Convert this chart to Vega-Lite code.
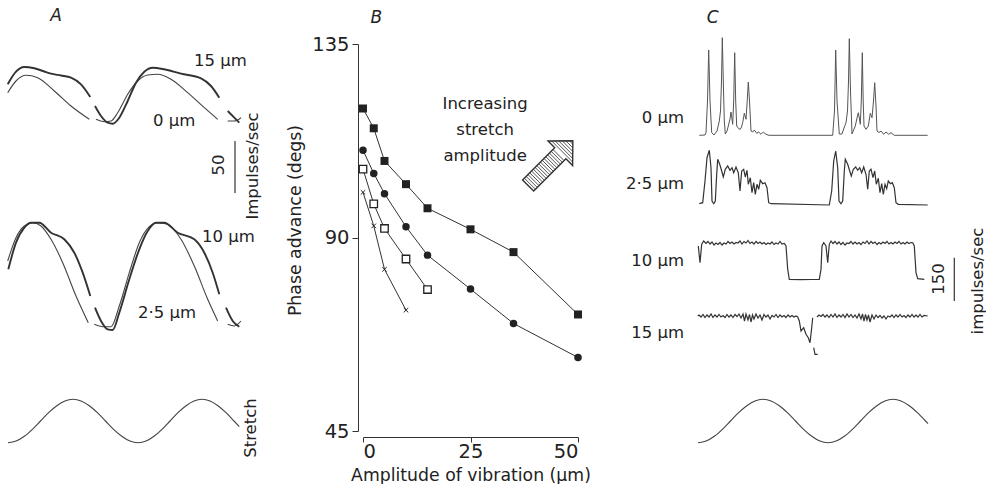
{
  "$schema": "https://vega.github.io/schema/vega-lite/v6.json",
  "padding": 0,
  "spacing": 20,
  "bounds": "flush",
  "background": "white",
  "config": {
    "view": {"stroke": null},
    "font": "DejaVu Sans",
    "text": {"font": "DejaVu Sans", "fontSize": 16.5, "color": "#222"},
    "axis": {
      "grid": false,
      "domainColor": "#333",
      "tickColor": "#333",
      "labelColor": "#222",
      "titleColor": "#222",
      "labelFont": "DejaVu Sans",
      "titleFont": "DejaVu Sans",
      "titleFontWeight": "normal"
    }
  },
  "datasets": {
    "tracesA": [
      {"s":"15","g":1,"t":6.7,"v":346.7},{"s":"15","g":1,"t":15,"v":359.3},{"s":"15","g":1,"t":23.3,"v":364},{"s":"15","g":1,"t":33.3,"v":362.7},{"s":"15","g":1,"t":42,"v":360},{"s":"15","g":1,"t":50,"v":357.3},{"s":"15","g":1,"t":60,"v":355.5},{"s":"15","g":1,"t":70,"v":353.3},{"s":"15","g":1,"t":80,"v":346.7},{"s":"15","g":1,"t":89.3,"v":334},
      {"s":"15","g":2,"t":94,"v":325},{"s":"15","g":2,"t":100,"v":315},{"s":"15","g":2,"t":106.7,"v":308.3},{"s":"15","g":2,"t":111.7,"v":307.3},{"s":"15","g":2,"t":118.3,"v":313.3},{"s":"15","g":2,"t":126.7,"v":330},{"s":"15","g":2,"t":135,"v":348.3},{"s":"15","g":2,"t":143.3,"v":359.3},{"s":"15","g":2,"t":151.7,"v":363.3},{"s":"15","g":2,"t":163.3,"v":361.7},{"s":"15","g":2,"t":180,"v":357.3},{"s":"15","g":2,"t":200,"v":352.7},{"s":"15","g":2,"t":210,"v":345},{"s":"15","g":2,"t":218.3,"v":333.3},
      {"s":"15","g":3,"t":226.7,"v":320},{"s":"15","g":3,"t":233.3,"v":313.3},{"s":"15","g":3,"t":238.3,"v":308.3},
      {"s":"0","g":1,"t":6.7,"v":338.3},{"s":"0","g":1,"t":15,"v":350},{"s":"0","g":1,"t":25,"v":355.7},{"s":"0","g":1,"t":36.7,"v":353.3},{"s":"0","g":1,"t":53.3,"v":340},{"s":"0","g":1,"t":70,"v":325},{"s":"0","g":1,"t":88.3,"v":311.7},
      {"s":"0","g":2,"t":95,"v":311.7},{"s":"0","g":2,"t":103.3,"v":309.3},{"s":"0","g":2,"t":110,"v":310},{"s":"0","g":2,"t":116.7,"v":318.3},{"s":"0","g":2,"t":126.7,"v":336.7},{"s":"0","g":2,"t":136.7,"v":350},{"s":"0","g":2,"t":146.7,"v":356},{"s":"0","g":2,"t":156.7,"v":356.7},{"s":"0","g":2,"t":170,"v":351.7},{"s":"0","g":2,"t":186.7,"v":338.3},{"s":"0","g":2,"t":203.3,"v":323.3},{"s":"0","g":2,"t":216.7,"v":311.7},
      {"s":"0","g":3,"t":226.7,"v":310},{"s":"0","g":3,"t":233.3,"v":310},{"s":"0","g":3,"t":240,"v":313.3},
      {"s":"10","g":1,"t":7.3,"v":161.7},{"s":"10","g":1,"t":15,"v":188.3},{"s":"10","g":1,"t":23.3,"v":203.3},{"s":"10","g":1,"t":30,"v":208.3},{"s":"10","g":1,"t":38.3,"v":208.3},{"s":"10","g":1,"t":50,"v":198.3},{"s":"10","g":1,"t":63.3,"v":191.7},{"s":"10","g":1,"t":73.3,"v":178.3},{"s":"10","g":1,"t":81.7,"v":158.3},{"s":"10","g":1,"t":89.3,"v":135},
      {"s":"10","g":2,"t":94,"v":123.3},{"s":"10","g":2,"t":100,"v":110},{"s":"10","g":2,"t":106.7,"v":101.7},{"s":"10","g":2,"t":111.7,"v":101},{"s":"10","g":2,"t":118.3,"v":118.3},{"s":"10","g":2,"t":128.3,"v":151.7},{"s":"10","g":2,"t":138.3,"v":181.7},{"s":"10","g":2,"t":146.7,"v":200},{"s":"10","g":2,"t":155,"v":208.3},{"s":"10","g":2,"t":163.3,"v":208.3},{"s":"10","g":2,"t":176.7,"v":198.3},{"s":"10","g":2,"t":193.3,"v":191.7},{"s":"10","g":2,"t":203.3,"v":178.3},{"s":"10","g":2,"t":211.7,"v":158.3},{"s":"10","g":2,"t":218.3,"v":136.7},
      {"s":"10","g":3,"t":225,"v":123.3},{"s":"10","g":3,"t":231.7,"v":110},{"s":"10","g":3,"t":238.3,"v":104.3},
      {"s":"2.5","g":1,"t":6.7,"v":170},{"s":"2.5","g":1,"t":15,"v":193.3},{"s":"2.5","g":1,"t":23.3,"v":205},{"s":"2.5","g":1,"t":31.7,"v":208.3},{"s":"2.5","g":1,"t":40,"v":205},{"s":"2.5","g":1,"t":50,"v":191.7},{"s":"2.5","g":1,"t":61.7,"v":168.3},{"s":"2.5","g":1,"t":75,"v":135},{"s":"2.5","g":1,"t":87.3,"v":108.3},
      {"s":"2.5","g":2,"t":93.3,"v":106.7},{"s":"2.5","g":2,"t":101.7,"v":104.3},{"s":"2.5","g":2,"t":110,"v":104.3},{"s":"2.5","g":2,"t":118.3,"v":125},{"s":"2.5","g":2,"t":128.3,"v":158.3},{"s":"2.5","g":2,"t":138.3,"v":188.3},{"s":"2.5","g":2,"t":148.3,"v":204.3},{"s":"2.5","g":2,"t":156.7,"v":208.3},{"s":"2.5","g":2,"t":166.7,"v":206.7},{"s":"2.5","g":2,"t":180,"v":191.7},{"s":"2.5","g":2,"t":193.3,"v":165},{"s":"2.5","g":2,"t":206.7,"v":131.7},{"s":"2.5","g":2,"t":216.7,"v":110},
      {"s":"2.5","g":3,"t":226.7,"v":106.7},{"s":"2.5","g":3,"t":233.3,"v":105},{"s":"2.5","g":3,"t":240,"v":110},
      {"s":"st","g":1,"t":7,"v":-11.7},{"s":"st","g":1,"t":15.1,"v":-10.1},{"s":"st","g":1,"t":23.3,"v":-5.3},{"s":"st","g":1,"t":31.4,"v":1.7},{"s":"st","g":1,"t":39.5,"v":10},{"s":"st","g":1,"t":47.6,"v":18.3},{"s":"st","g":1,"t":55.8,"v":25.3},{"s":"st","g":1,"t":63.9,"v":30.1},{"s":"st","g":1,"t":72,"v":31.7},{"s":"st","g":1,"t":80.1,"v":30.1},{"s":"st","g":1,"t":88.3,"v":25.3},{"s":"st","g":1,"t":96.4,"v":18.3},{"s":"st","g":1,"t":104.5,"v":10},{"s":"st","g":1,"t":112.6,"v":1.7},{"s":"st","g":1,"t":120.8,"v":-5.3},{"s":"st","g":1,"t":128.9,"v":-10.1},{"s":"st","g":1,"t":137,"v":-11.7},{"s":"st","g":1,"t":145,"v":-10.1},{"s":"st","g":1,"t":153,"v":-5.3},{"s":"st","g":1,"t":161,"v":1.7},{"s":"st","g":1,"t":169,"v":10},{"s":"st","g":1,"t":177,"v":18.3},{"s":"st","g":1,"t":185,"v":25.3},{"s":"st","g":1,"t":193,"v":30.1},{"s":"st","g":1,"t":201,"v":31.7},{"s":"st","g":1,"t":209,"v":30.1},{"s":"st","g":1,"t":217,"v":25.3},{"s":"st","g":1,"t":225,"v":18.3},{"s":"st","g":1,"t":233,"v":10},{"s":"st","g":1,"t":238.3,"v":4.4}
    ],
    "phase": [
      {"series":"sq","amp":0,"phase":120.0},{"series":"sq","amp":2.5,"phase":115.4},{"series":"sq","amp":5,"phase":107.8},{"series":"sq","amp":10,"phase":102.4},{"series":"sq","amp":15,"phase":96.8},{"series":"sq","amp":25,"phase":91.9},{"series":"sq","amp":35,"phase":86.6},{"series":"sq","amp":50,"phase":72.1},
      {"series":"circ","amp":0,"phase":110.3},{"series":"circ","amp":2.5,"phase":104.9},{"series":"circ","amp":5,"phase":100.2},{"series":"circ","amp":10,"phase":92.5},{"series":"circ","amp":15,"phase":85.9},{"series":"circ","amp":25,"phase":78.0},{"series":"circ","amp":35,"phase":70.0},{"series":"circ","amp":50,"phase":62.1},
      {"series":"open","amp":0,"phase":105.9},{"series":"open","amp":2.5,"phase":97.8},{"series":"open","amp":5,"phase":92.1},{"series":"open","amp":10,"phase":85.0},{"series":"open","amp":15,"phase":77.9},
      {"series":"x","amp":0,"phase":100.5},{"series":"x","amp":2.5,"phase":92.7},{"series":"x","amp":5,"phase":82.6},{"series":"x","amp":10,"phase":73.1}
    ],
    "tracesC": [
      {"s":"0","g":1,"t":698.3,"v":295.7},{"s":"0","g":1,"t":704,"v":296},{"s":"0","g":1,"t":705,"v":298.3},{"s":"0","g":1,"t":706.5,"v":330},{"s":"0","g":1,"t":707.7,"v":381},{"s":"0","g":1,"t":709,"v":330},{"s":"0","g":1,"t":710.7,"v":298.3},{"s":"0","g":1,"t":713,"v":296},{"s":"0","g":1,"t":716,"v":300},{"s":"0","g":1,"t":718.3,"v":310},{"s":"0","g":1,"t":719.5,"v":320},{"s":"0","g":1,"t":720.5,"v":350},{"s":"0","g":1,"t":721.3,"v":393.3},{"s":"0","g":1,"t":722.3,"v":350},{"s":"0","g":1,"t":723.3,"v":310},{"s":"0","g":1,"t":724.3,"v":297},{"s":"0","g":1,"t":726,"v":300},{"s":"0","g":1,"t":727.3,"v":305},{"s":"0","g":1,"t":729,"v":312},{"s":"0","g":1,"t":730,"v":319},{"s":"0","g":1,"t":731,"v":312},{"s":"0","g":1,"t":731.7,"v":306.7},{"s":"0","g":1,"t":732.7,"v":330},{"s":"0","g":1,"t":733.7,"v":378.3},{"s":"0","g":1,"t":734.7,"v":330},{"s":"0","g":1,"t":735.7,"v":305},{"s":"0","g":1,"t":737.7,"v":302.3},{"s":"0","g":1,"t":739.3,"v":301.7},{"s":"0","g":1,"t":740.5,"v":304},{"s":"0","g":1,"t":741.7,"v":308.3},{"s":"0","g":1,"t":743.3,"v":317.7},{"s":"0","g":1,"t":745,"v":311.7},{"s":"0","g":1,"t":746.2,"v":330},{"s":"0","g":1,"t":747.3,"v":349},{"s":"0","g":1,"t":748.5,"v":330},{"s":"0","g":1,"t":750,"v":300},{"s":"0","g":1,"t":751.7,"v":299},{"s":"0","g":1,"t":753.3,"v":301},{"s":"0","g":1,"t":755.7,"v":297.7},{"s":"0","g":1,"t":757.7,"v":299},{"s":"0","g":1,"t":760,"v":296.7},{"s":"0","g":1,"t":762.3,"v":299},{"s":"0","g":1,"t":765,"v":296.7},{"s":"0","g":1,"t":768,"v":295.7},{"s":"0","g":1,"t":831.7,"v":295.7},{"s":"0","g":1,"t":833.5,"v":320},{"s":"0","g":1,"t":834.7,"v":381},{"s":"0","g":1,"t":836,"v":330},{"s":"0","g":1,"t":838.3,"v":297},{"s":"0","g":1,"t":841,"v":297},{"s":"0","g":1,"t":843,"v":303},{"s":"0","g":1,"t":845,"v":308.3},{"s":"0","g":1,"t":846.5,"v":320},{"s":"0","g":1,"t":847.5,"v":350},{"s":"0","g":1,"t":848.3,"v":392.3},{"s":"0","g":1,"t":849.5,"v":340},{"s":"0","g":1,"t":851,"v":297},{"s":"0","g":1,"t":853,"v":302},{"s":"0","g":1,"t":854.3,"v":305},{"s":"0","g":1,"t":856,"v":313},{"s":"0","g":1,"t":857.3,"v":318.3},{"s":"0","g":1,"t":858.5,"v":312},{"s":"0","g":1,"t":859.3,"v":306.7},{"s":"0","g":1,"t":860.3,"v":330},{"s":"0","g":1,"t":861.3,"v":378.3},{"s":"0","g":1,"t":862.2,"v":330},{"s":"0","g":1,"t":863,"v":305},{"s":"0","g":1,"t":865,"v":301.7},{"s":"0","g":1,"t":867.3,"v":305},{"s":"0","g":1,"t":869.3,"v":317.7},{"s":"0","g":1,"t":871,"v":313.3},{"s":"0","g":1,"t":872.5,"v":330},{"s":"0","g":1,"t":873.7,"v":348.3},{"s":"0","g":1,"t":875,"v":325},{"s":"0","g":1,"t":876,"v":300},{"s":"0","g":1,"t":878,"v":298.5},{"s":"0","g":1,"t":880,"v":300},{"s":"0","g":1,"t":882.7,"v":296.7},{"s":"0","g":1,"t":885,"v":299},{"s":"0","g":1,"t":887.7,"v":296.7},{"s":"0","g":1,"t":890,"v":298.3},{"s":"0","g":1,"t":893.3,"v":295.7},{"s":"0","g":1,"t":926.7,"v":295.7},
      {"s":"2.5","g":1,"t":698.3,"v":227.3},{"s":"2.5","g":1,"t":701.7,"v":228.3},{"s":"2.5","g":1,"t":704,"v":250},{"s":"2.5","g":1,"t":706,"v":273.3},{"s":"2.5","g":1,"t":708.3,"v":280.7},{"s":"2.5","g":1,"t":710,"v":263.3},{"s":"2.5","g":1,"t":711,"v":230},{"s":"2.5","g":1,"t":712.7,"v":227.3},{"s":"2.5","g":1,"t":714.3,"v":230},{"s":"2.5","g":1,"t":715.7,"v":256.7},{"s":"2.5","g":1,"t":716.7,"v":271.7},{"s":"2.5","g":1,"t":718.7,"v":266.7},{"s":"2.5","g":1,"t":720.7,"v":260},{"s":"2.5","g":1,"t":722.3,"v":254},{"s":"2.5","g":1,"t":724.3,"v":261.7},{"s":"2.5","g":1,"t":726.7,"v":265},{"s":"2.5","g":1,"t":729,"v":260.7},{"s":"2.5","g":1,"t":731,"v":263.3},{"s":"2.5","g":1,"t":732.7,"v":258.3},{"s":"2.5","g":1,"t":735,"v":264},{"s":"2.5","g":1,"t":737.3,"v":258.3},{"s":"2.5","g":1,"t":739,"v":240},{"s":"2.5","g":1,"t":740.7,"v":260},{"s":"2.5","g":1,"t":742.7,"v":261.7},{"s":"2.5","g":1,"t":744.3,"v":254},{"s":"2.5","g":1,"t":746,"v":260.7},{"s":"2.5","g":1,"t":747.3,"v":246.7},{"s":"2.5","g":1,"t":749.3,"v":253.3},{"s":"2.5","g":1,"t":751,"v":238.3},{"s":"2.5","g":1,"t":752.7,"v":248.3},{"s":"2.5","g":1,"t":754.3,"v":236.7},{"s":"2.5","g":1,"t":756,"v":246.7},{"s":"2.5","g":1,"t":757.7,"v":241.7},{"s":"2.5","g":1,"t":759.3,"v":250.7},{"s":"2.5","g":1,"t":761.7,"v":247.3},{"s":"2.5","g":1,"t":764,"v":248.3},{"s":"2.5","g":1,"t":766,"v":243.3},{"s":"2.5","g":1,"t":767.7,"v":228.3},{"s":"2.5","g":1,"t":770,"v":227.3},{"s":"2.5","g":1,"t":828.3,"v":226},{"s":"2.5","g":1,"t":830.7,"v":240},{"s":"2.5","g":1,"t":832.7,"v":270},{"s":"2.5","g":1,"t":834.7,"v":280},{"s":"2.5","g":1,"t":836.7,"v":263.3},{"s":"2.5","g":1,"t":838,"v":230},{"s":"2.5","g":1,"t":840,"v":227.3},{"s":"2.5","g":1,"t":841.7,"v":230},{"s":"2.5","g":1,"t":843.3,"v":260},{"s":"2.5","g":1,"t":844.3,"v":271.7},{"s":"2.5","g":1,"t":846.7,"v":266.7},{"s":"2.5","g":1,"t":848.7,"v":260},{"s":"2.5","g":1,"t":850.3,"v":255},{"s":"2.5","g":1,"t":852.3,"v":261.7},{"s":"2.5","g":1,"t":854.7,"v":264},{"s":"2.5","g":1,"t":856.7,"v":260.7},{"s":"2.5","g":1,"t":858.7,"v":263.3},{"s":"2.5","g":1,"t":860.7,"v":258.3},{"s":"2.5","g":1,"t":862.7,"v":264},{"s":"2.5","g":1,"t":865,"v":256.7},{"s":"2.5","g":1,"t":866.7,"v":241.7},{"s":"2.5","g":1,"t":868.3,"v":260},{"s":"2.5","g":1,"t":870,"v":261.7},{"s":"2.5","g":1,"t":872,"v":253.3},{"s":"2.5","g":1,"t":873.7,"v":260},{"s":"2.5","g":1,"t":875.3,"v":246.7},{"s":"2.5","g":1,"t":877.3,"v":252.7},{"s":"2.5","g":1,"t":879,"v":238.3},{"s":"2.5","g":1,"t":880.7,"v":247.3},{"s":"2.5","g":1,"t":882.3,"v":236.7},{"s":"2.5","g":1,"t":884,"v":246.7},{"s":"2.5","g":1,"t":885.7,"v":242.3},{"s":"2.5","g":1,"t":887.3,"v":250},{"s":"2.5","g":1,"t":889.3,"v":247.3},{"s":"2.5","g":1,"t":891.3,"v":248.3},{"s":"2.5","g":1,"t":893.3,"v":243.3},{"s":"2.5","g":1,"t":895,"v":228.3},{"s":"2.5","g":1,"t":897.3,"v":226.7},{"s":"2.5","g":1,"t":926.7,"v":226},
      {"s":"10","g":1,"t":697.3,"v":185},{"s":"10","g":1,"t":699,"v":168.3},{"s":"10","g":1,"t":700.7,"v":186.7},{"s":"10","g":1,"t":702.7,"v":190},{"s":"10","g":1,"t":705,"v":187.5},{"s":"10","g":1,"t":707,"v":189.5},{"s":"10","g":1,"t":709,"v":187},{"s":"10","g":1,"t":711,"v":189},{"s":"10","g":1,"t":713,"v":186},{"s":"10","g":1,"t":715,"v":188},{"s":"10","g":1,"t":717,"v":186.5},{"s":"10","g":1,"t":719,"v":188.5},{"s":"10","g":1,"t":721,"v":186},{"s":"10","g":1,"t":723,"v":188},{"s":"10","g":1,"t":725,"v":187},{"s":"10","g":1,"t":727,"v":189.5},{"s":"10","g":1,"t":729,"v":187.5},{"s":"10","g":1,"t":731,"v":189},{"s":"10","g":1,"t":733,"v":187},{"s":"10","g":1,"t":735,"v":188.5},{"s":"10","g":1,"t":737,"v":188},{"s":"10","g":1,"t":739,"v":190},{"s":"10","g":1,"t":741,"v":187},{"s":"10","g":1,"t":743,"v":189.5},{"s":"10","g":1,"t":745,"v":188},{"s":"10","g":1,"t":747,"v":190.5},{"s":"10","g":1,"t":749,"v":187.5},{"s":"10","g":1,"t":751,"v":189},{"s":"10","g":1,"t":753,"v":187},{"s":"10","g":1,"t":755,"v":189.5},{"s":"10","g":1,"t":757,"v":187.5},{"s":"10","g":1,"t":759,"v":189},{"s":"10","g":1,"t":761,"v":187},{"s":"10","g":1,"t":763,"v":188.5},{"s":"10","g":1,"t":765,"v":186.5},{"s":"10","g":1,"t":767,"v":188},{"s":"10","g":1,"t":769,"v":187},{"s":"10","g":1,"t":771,"v":189},{"s":"10","g":1,"t":773,"v":186.5},{"s":"10","g":1,"t":775,"v":188},{"s":"10","g":1,"t":777,"v":187},{"s":"10","g":1,"t":779,"v":189.5},{"s":"10","g":1,"t":781,"v":187},{"s":"10","g":1,"t":783.3,"v":187.5},{"s":"10","g":1,"t":785,"v":185},{"s":"10","g":1,"t":786.7,"v":161.7},{"s":"10","g":1,"t":788.3,"v":151.7},{"s":"10","g":1,"t":800,"v":151.3},{"s":"10","g":1,"t":810,"v":151.5},{"s":"10","g":1,"t":818.3,"v":151.7},{"s":"10","g":1,"t":820,"v":161.7},{"s":"10","g":1,"t":821,"v":185},{"s":"10","g":1,"t":822.7,"v":188.3},{"s":"10","g":1,"t":825,"v":185},{"s":"10","g":1,"t":826.7,"v":168.3},{"s":"10","g":1,"t":828.3,"v":186.7},{"s":"10","g":1,"t":830,"v":190},{"s":"10","g":1,"t":832,"v":187.5},{"s":"10","g":1,"t":834,"v":189.5},{"s":"10","g":1,"t":836,"v":187},{"s":"10","g":1,"t":838,"v":189},{"s":"10","g":1,"t":840,"v":186.5},{"s":"10","g":1,"t":842,"v":188.5},{"s":"10","g":1,"t":844,"v":186},{"s":"10","g":1,"t":846,"v":188},{"s":"10","g":1,"t":848,"v":187.5},{"s":"10","g":1,"t":850,"v":189.5},{"s":"10","g":1,"t":852,"v":187},{"s":"10","g":1,"t":854,"v":189},{"s":"10","g":1,"t":856,"v":187},{"s":"10","g":1,"t":858,"v":188.5},{"s":"10","g":1,"t":860,"v":186.5},{"s":"10","g":1,"t":862,"v":189},{"s":"10","g":1,"t":864,"v":187.5},{"s":"10","g":1,"t":866,"v":190},{"s":"10","g":1,"t":868,"v":187},{"s":"10","g":1,"t":870,"v":189.5},{"s":"10","g":1,"t":872,"v":187.5},{"s":"10","g":1,"t":874,"v":189},{"s":"10","g":1,"t":876,"v":186.5},{"s":"10","g":1,"t":878,"v":188.5},{"s":"10","g":1,"t":880,"v":187},{"s":"10","g":1,"t":882,"v":189},{"s":"10","g":1,"t":884,"v":187.5},{"s":"10","g":1,"t":886,"v":189.5},{"s":"10","g":1,"t":888,"v":187},{"s":"10","g":1,"t":890,"v":188.5},{"s":"10","g":1,"t":892,"v":187},{"s":"10","g":1,"t":894,"v":189},{"s":"10","g":1,"t":896,"v":187.5},{"s":"10","g":1,"t":898,"v":189.5},{"s":"10","g":1,"t":900,"v":187},{"s":"10","g":1,"t":902,"v":188.5},{"s":"10","g":1,"t":904,"v":187},{"s":"10","g":1,"t":906,"v":189},{"s":"10","g":1,"t":908,"v":187.5},{"s":"10","g":1,"t":910,"v":188.5},{"s":"10","g":1,"t":911.7,"v":188.3},{"s":"10","g":1,"t":913.3,"v":185},{"s":"10","g":1,"t":915,"v":158.3},{"s":"10","g":1,"t":916.7,"v":152.3},{"s":"10","g":1,"t":923.3,"v":151.7},
      {"s":"15","g":1,"t":696.7,"v":115},{"s":"15","g":1,"t":698,"v":116},{"s":"15","g":1,"t":700,"v":114},{"s":"15","g":1,"t":702,"v":116.5},{"s":"15","g":1,"t":704,"v":113.5},{"s":"15","g":1,"t":706,"v":116},{"s":"15","g":1,"t":708,"v":114},{"s":"15","g":1,"t":710,"v":117},{"s":"15","g":1,"t":712,"v":113.5},{"s":"15","g":1,"t":714,"v":116},{"s":"15","g":1,"t":716,"v":114},{"s":"15","g":1,"t":718,"v":116.5},{"s":"15","g":1,"t":720,"v":114},{"s":"15","g":1,"t":722,"v":115.5},{"s":"15","g":1,"t":724,"v":113.5},{"s":"15","g":1,"t":726,"v":116.5},{"s":"15","g":1,"t":728,"v":114},{"s":"15","g":1,"t":730,"v":116},{"s":"15","g":1,"t":732,"v":113.5},{"s":"15","g":1,"t":734,"v":116.5},{"s":"15","g":1,"t":736,"v":114.5},{"s":"15","g":1,"t":738,"v":117},{"s":"15","g":1,"t":740,"v":113},{"s":"15","g":1,"t":742,"v":117},{"s":"15","g":1,"t":743.5,"v":110},{"s":"15","g":1,"t":745,"v":117},{"s":"15","g":1,"t":747,"v":111},{"s":"15","g":1,"t":748.5,"v":116.5},{"s":"15","g":1,"t":750,"v":109},{"s":"15","g":1,"t":751.5,"v":116},{"s":"15","g":1,"t":753,"v":112},{"s":"15","g":1,"t":755,"v":117},{"s":"15","g":1,"t":757,"v":113},{"s":"15","g":1,"t":759,"v":116},{"s":"15","g":1,"t":761,"v":111},{"s":"15","g":1,"t":763,"v":116.5},{"s":"15","g":1,"t":765,"v":114},{"s":"15","g":1,"t":767,"v":116},{"s":"15","g":1,"t":769,"v":112},{"s":"15","g":1,"t":771,"v":115.5},{"s":"15","g":1,"t":773,"v":114},{"s":"15","g":1,"t":775,"v":116.5},{"s":"15","g":1,"t":777,"v":113.5},{"s":"15","g":1,"t":779,"v":116},{"s":"15","g":1,"t":781,"v":114},{"s":"15","g":1,"t":783,"v":115.5},{"s":"15","g":1,"t":785,"v":113.5},{"s":"15","g":1,"t":787,"v":116},{"s":"15","g":1,"t":789,"v":114},{"s":"15","g":1,"t":791,"v":115.5},{"s":"15","g":1,"t":793,"v":114},{"s":"15","g":1,"t":795,"v":115},{"s":"15","g":1,"t":796.7,"v":114},{"s":"15","g":1,"t":798.3,"v":110},{"s":"15","g":1,"t":800,"v":100},{"s":"15","g":1,"t":802.7,"v":103.3},{"s":"15","g":1,"t":805,"v":96.7},{"s":"15","g":1,"t":807.3,"v":93.3},{"s":"15","g":1,"t":809,"v":88.3},{"s":"15","g":1,"t":810.7,"v":103.3},{"s":"15","g":1,"t":811.7,"v":113.3},
      {"s":"15","g":2,"t":812.7,"v":83.3},{"s":"15","g":2,"t":814,"v":76.7},{"s":"15","g":2,"t":816.7,"v":76.7},
      {"s":"15","g":3,"t":816,"v":114},{"s":"15","g":3,"t":818,"v":116},{"s":"15","g":3,"t":820,"v":114.5},{"s":"15","g":3,"t":822,"v":116.5},{"s":"15","g":3,"t":824,"v":114},{"s":"15","g":3,"t":826,"v":116},{"s":"15","g":3,"t":828,"v":113.5},{"s":"15","g":3,"t":830,"v":116.5},{"s":"15","g":3,"t":832,"v":114},{"s":"15","g":3,"t":834,"v":117},{"s":"15","g":3,"t":836,"v":113.5},{"s":"15","g":3,"t":838,"v":116},{"s":"15","g":3,"t":840,"v":114},{"s":"15","g":3,"t":842,"v":116.5},{"s":"15","g":3,"t":844,"v":113.5},{"s":"15","g":3,"t":846,"v":117},{"s":"15","g":3,"t":848,"v":114},{"s":"15","g":3,"t":850,"v":116.5},{"s":"15","g":3,"t":852,"v":113.5},{"s":"15","g":3,"t":854,"v":116},{"s":"15","g":3,"t":856,"v":113},{"s":"15","g":3,"t":858,"v":117},{"s":"15","g":3,"t":860,"v":112},{"s":"15","g":3,"t":861.5,"v":117},{"s":"15","g":3,"t":863,"v":110},{"s":"15","g":3,"t":864.5,"v":116.5},{"s":"15","g":3,"t":866,"v":111},{"s":"15","g":3,"t":867.5,"v":116},{"s":"15","g":3,"t":869,"v":109},{"s":"15","g":3,"t":871,"v":116},{"s":"15","g":3,"t":873,"v":112},{"s":"15","g":3,"t":875,"v":116},{"s":"15","g":3,"t":877,"v":113.5},{"s":"15","g":3,"t":879,"v":115.5},{"s":"15","g":3,"t":881,"v":113},{"s":"15","g":3,"t":883,"v":115},{"s":"15","g":3,"t":885,"v":112},{"s":"15","g":3,"t":887,"v":115},{"s":"15","g":3,"t":889,"v":114},{"s":"15","g":3,"t":891,"v":116},{"s":"15","g":3,"t":893,"v":113.5},{"s":"15","g":3,"t":895,"v":116},{"s":"15","g":3,"t":897,"v":114},{"s":"15","g":3,"t":899,"v":116.5},{"s":"15","g":3,"t":901,"v":114},{"s":"15","g":3,"t":903,"v":115.5},{"s":"15","g":3,"t":905,"v":113.5},{"s":"15","g":3,"t":907,"v":116},{"s":"15","g":3,"t":909,"v":114},{"s":"15","g":3,"t":911,"v":116.5},{"s":"15","g":3,"t":913,"v":114},{"s":"15","g":3,"t":915,"v":116},{"s":"15","g":3,"t":917,"v":114},{"s":"15","g":3,"t":919,"v":116.5},{"s":"15","g":3,"t":921,"v":114},{"s":"15","g":3,"t":923,"v":115.5},{"s":"15","g":3,"t":926.7,"v":115},
      {"s":"st","g":1,"t":697,"v":-11.7},{"s":"st","g":1,"t":705.1,"v":-10.1},{"s":"st","g":1,"t":713.3,"v":-5.3},{"s":"st","g":1,"t":721.4,"v":1.7},{"s":"st","g":1,"t":729.5,"v":10},{"s":"st","g":1,"t":737.6,"v":18.3},{"s":"st","g":1,"t":745.8,"v":25.3},{"s":"st","g":1,"t":753.9,"v":30.1},{"s":"st","g":1,"t":762,"v":31.7},{"s":"st","g":1,"t":770.1,"v":30.1},{"s":"st","g":1,"t":778.3,"v":25.3},{"s":"st","g":1,"t":786.4,"v":18.3},{"s":"st","g":1,"t":794.5,"v":10},{"s":"st","g":1,"t":802.6,"v":1.7},{"s":"st","g":1,"t":810.8,"v":-5.3},{"s":"st","g":1,"t":818.9,"v":-10.1},{"s":"st","g":1,"t":827,"v":-11.7},{"s":"st","g":1,"t":835.1,"v":-10.1},{"s":"st","g":1,"t":843.3,"v":-5.3},{"s":"st","g":1,"t":851.4,"v":1.7},{"s":"st","g":1,"t":859.5,"v":10},{"s":"st","g":1,"t":867.6,"v":18.3},{"s":"st","g":1,"t":875.8,"v":25.3},{"s":"st","g":1,"t":883.9,"v":30.1},{"s":"st","g":1,"t":892,"v":31.7},{"s":"st","g":1,"t":900.1,"v":30.1},{"s":"st","g":1,"t":908.3,"v":25.3},{"s":"st","g":1,"t":916.4,"v":18.3},{"s":"st","g":1,"t":924.5,"v":10},{"s":"st","g":1,"t":927,"v":7.3}
    ]
  },
  "hconcat": [
    {
      "width": 342,
      "height": 387,
      "data": {"name": "tracesA"},
      "encoding": {
        "x": {"field": "t", "type": "quantitative", "scale": {"domain": [0, 342], "nice": false, "zero": false}, "axis": null},
        "y": {"field": "v", "type": "quantitative", "scale": {"domain": [0, 387], "nice": false, "zero": false}, "axis": null}
      },
      "layer": [
        {
          "transform": [{"filter": "datum.s == '0' || datum.s == '2.5' || datum.s == 'st'"}],
          "mark": {"type": "line", "color": "#444", "strokeWidth": 1.1, "interpolate": "monotone"},
          "encoding": {"detail": [{"field": "s"}, {"field": "g"}]}
        },
        {
          "transform": [{"filter": "datum.s == '15' || datum.s == '10'"}],
          "mark": {"type": "line", "color": "#333", "strokeWidth": 1.9, "interpolate": "monotone"},
          "encoding": {"detail": [{"field": "s"}, {"field": "g"}]}
        },
        {"data": {"values": [{"t": 0, "v": 430}]}, "mark": {"type": "point", "size": 1, "opacity": 0}},
        {"data": {"values": [{"t": 55, "v": 415}]}, "mark": {"type": "text", "text": "A", "fontStyle": "italic", "fontSize": 17, "align": "center", "baseline": "middle"}},
        {"data": {"values": [{"t": 193, "v": 370}]}, "mark": {"type": "text", "text": "15 μm", "align": "left", "baseline": "middle"}},
        {"data": {"values": [{"t": 152, "v": 310}]}, "mark": {"type": "text", "text": "0 μm", "align": "left", "baseline": "middle"}},
        {"data": {"values": [{"t": 201, "v": 194}]}, "mark": {"type": "text", "text": "10 μm", "align": "left", "baseline": "middle"}},
        {"data": {"values": [{"t": 137, "v": 118}]}, "mark": {"type": "text", "text": "2·5 μm", "align": "left", "baseline": "middle"}},
        {"data": {"values": [{"t": 218, "v": 266}]}, "mark": {"type": "text", "text": "50", "angle": -90, "align": "center", "baseline": "middle"}},
        {"data": {"values": [{"t": 252, "v": 265}]}, "mark": {"type": "text", "text": "Impulses/sec", "angle": -90, "align": "center", "baseline": "middle"}},
        {"data": {"values": [{"t": 250, "v": 3}]}, "mark": {"type": "text", "text": "Stretch", "angle": -90, "align": "center", "baseline": "middle"}},
        {"data": {"values": [{"t": 234, "v": 238, "v2": 290}]}, "mark": {"type": "rule", "color": "#333", "strokeWidth": 1.2}, "encoding": {"y2": {"field": "v2"}}}
      ]
    },
    {
      "width": 215,
      "height": 387,
      "data": {"name": "phase"},
      "encoding": {
        "x": {
          "field": "amp", "type": "quantitative",
          "scale": {"domain": [0, 50], "nice": false, "zero": false},
          "axis": {"values": [0, 25, 50], "offset": 6, "tickSize": 5, "labelFontSize": 19.5, "labelPadding": 0, "title": "Amplitude of vibration (μm)", "titleFontSize": 17.3, "titlePadding": 6}
        },
        "y": {
          "field": "phase", "type": "quantitative",
          "scale": {"domain": [45, 135], "nice": false, "zero": false},
          "axis": {"values": [45, 90, 135], "offset": 5, "tickSize": 6, "labelFontSize": 19.5, "labelPadding": 3, "title": "Phase advance (degs)", "titleFontSize": 17.3, "titlePadding": 7, "titleY": 176}
        }
      },
      "layer": [
        {"mark": {"type": "line", "color": "#333", "strokeWidth": 1}, "encoding": {"detail": {"field": "series"}}},
        {"transform": [{"filter": "datum.series == 'sq'"}], "mark": {"type": "point", "shape": "square", "filled": true, "size": 64, "color": "#222", "opacity": 1}},
        {"transform": [{"filter": "datum.series == 'circ'"}], "mark": {"type": "point", "shape": "circle", "filled": true, "size": 56, "color": "#222", "opacity": 1}},
        {"transform": [{"filter": "datum.series == 'open'"}], "mark": {"type": "point", "shape": "square", "filled": true, "size": 56, "fill": "white", "stroke": "#222", "strokeWidth": 1.3, "opacity": 1}},
        {"transform": [{"filter": "datum.series == 'x'"}], "mark": {"type": "point", "shape": "M-1,-1L1,1M-1,1L1,-1", "filled": false, "size": 20, "color": "#222", "strokeWidth": 1, "opacity": 1}},
        {"data": {"values": [{"amp": 3.1, "phase": 141.1}]}, "mark": {"type": "text", "text": "B", "fontStyle": "italic", "fontSize": 17, "align": "center", "baseline": "middle"}},
        {"data": {"values": [{"amp": 28.4, "phase": 121.0}]}, "mark": {"type": "text", "text": ["Increasing", "stretch", "amplitude"], "lineHeight": 26, "align": "center", "baseline": "middle"}},
        {"data": {"values": [{"amp": 43.6, "phase": 107.3}]}, "mark": {"type": "point", "shape": "M-1,-0.25L0.44,-0.25L0.44,-0.55L1,0L0.44,0.55L0.44,0.25L-1,0.25Z", "size": 4000, "angle": -45, "filled": false, "color": "#333", "strokeWidth": 1.4, "opacity": 1}},
        {"data": {"values": [{"amp": 43.6, "phase": 107.3}]}, "mark": {"type": "point", "shape": "M-0.92,-0.25L-0.92,0.25M-0.84,-0.25L-0.84,0.25M-0.76,-0.25L-0.76,0.25M-0.68,-0.25L-0.68,0.25M-0.6,-0.25L-0.6,0.25M-0.52,-0.25L-0.52,0.25M-0.44,-0.25L-0.44,0.25M-0.36,-0.25L-0.36,0.25M-0.28,-0.25L-0.28,0.25M-0.2,-0.25L-0.2,0.25M-0.12,-0.25L-0.12,0.25M-0.04,-0.25L-0.04,0.25M0.04,-0.25L0.04,0.25M0.12,-0.25L0.12,0.25M0.2,-0.25L0.2,0.25M0.28,-0.25L0.28,0.25M0.36,-0.25L0.36,0.25M0.52,-0.471L0.52,0.471M0.6,-0.393L0.6,0.393M0.68,-0.314L0.68,0.314M0.76,-0.236L0.76,0.236M0.84,-0.157L0.84,0.157M0.92,-0.079L0.92,0.079", "size": 4000, "angle": -45, "filled": false, "color": "#333", "strokeWidth": 0.8, "opacity": 1}}
      ]
    },
    {
      "width": 388,
      "height": 387,
      "data": {"name": "tracesC"},
      "encoding": {
        "x": {"field": "t", "type": "quantitative", "scale": {"domain": [597, 985], "nice": false, "zero": false}, "axis": null},
        "y": {"field": "v", "type": "quantitative", "scale": {"domain": [0, 387], "nice": false, "zero": false}, "axis": null}
      },
      "layer": [
        {
          "transform": [{"filter": "datum.s == '0'"}],
          "mark": {"type": "line", "color": "#555", "strokeWidth": 1},
          "encoding": {"detail": {"field": "g"}}
        },
        {
          "transform": [{"filter": "datum.s == '2.5' || datum.s == '10' || datum.s == '15'"}],
          "mark": {"type": "line", "color": "#333", "strokeWidth": 1.2},
          "encoding": {"detail": [{"field": "s"}, {"field": "g"}]}
        },
        {
          "transform": [{"filter": "datum.s == 'st'"}],
          "mark": {"type": "line", "color": "#444", "strokeWidth": 1.1, "interpolate": "monotone"},
          "encoding": {}
        },
        {"data": {"values": [{"t": 711.7, "v": 413.3}]}, "mark": {"type": "text", "text": "C", "fontStyle": "italic", "fontSize": 17, "align": "center", "baseline": "middle"}},
        {"data": {"values": [{"t": 683, "v": 313.3}]}, "mark": {"type": "text", "text": "0 μm", "align": "right", "baseline": "middle"}},
        {"data": {"values": [{"t": 683, "v": 247}]}, "mark": {"type": "text", "text": "2·5 μm", "align": "right", "baseline": "middle"}},
        {"data": {"values": [{"t": 683, "v": 170}]}, "mark": {"type": "text", "text": "10 μm", "align": "right", "baseline": "middle"}},
        {"data": {"values": [{"t": 683, "v": 98.3}]}, "mark": {"type": "text", "text": "15 μm", "align": "right", "baseline": "middle"}},
        {"data": {"values": [{"t": 938.3, "v": 152}]}, "mark": {"type": "text", "text": "150", "angle": -90, "align": "center", "baseline": "middle"}},
        {"data": {"values": [{"t": 977, "v": 150}]}, "mark": {"type": "text", "text": "impulses/sec", "angle": -90, "align": "center", "baseline": "middle"}},
        {"data": {"values": [{"t": 953.3, "v": 130, "v2": 173.3}]}, "mark": {"type": "rule", "color": "#333", "strokeWidth": 1.2}, "encoding": {"y2": {"field": "v2"}}}
      ]
    }
  ]
}
